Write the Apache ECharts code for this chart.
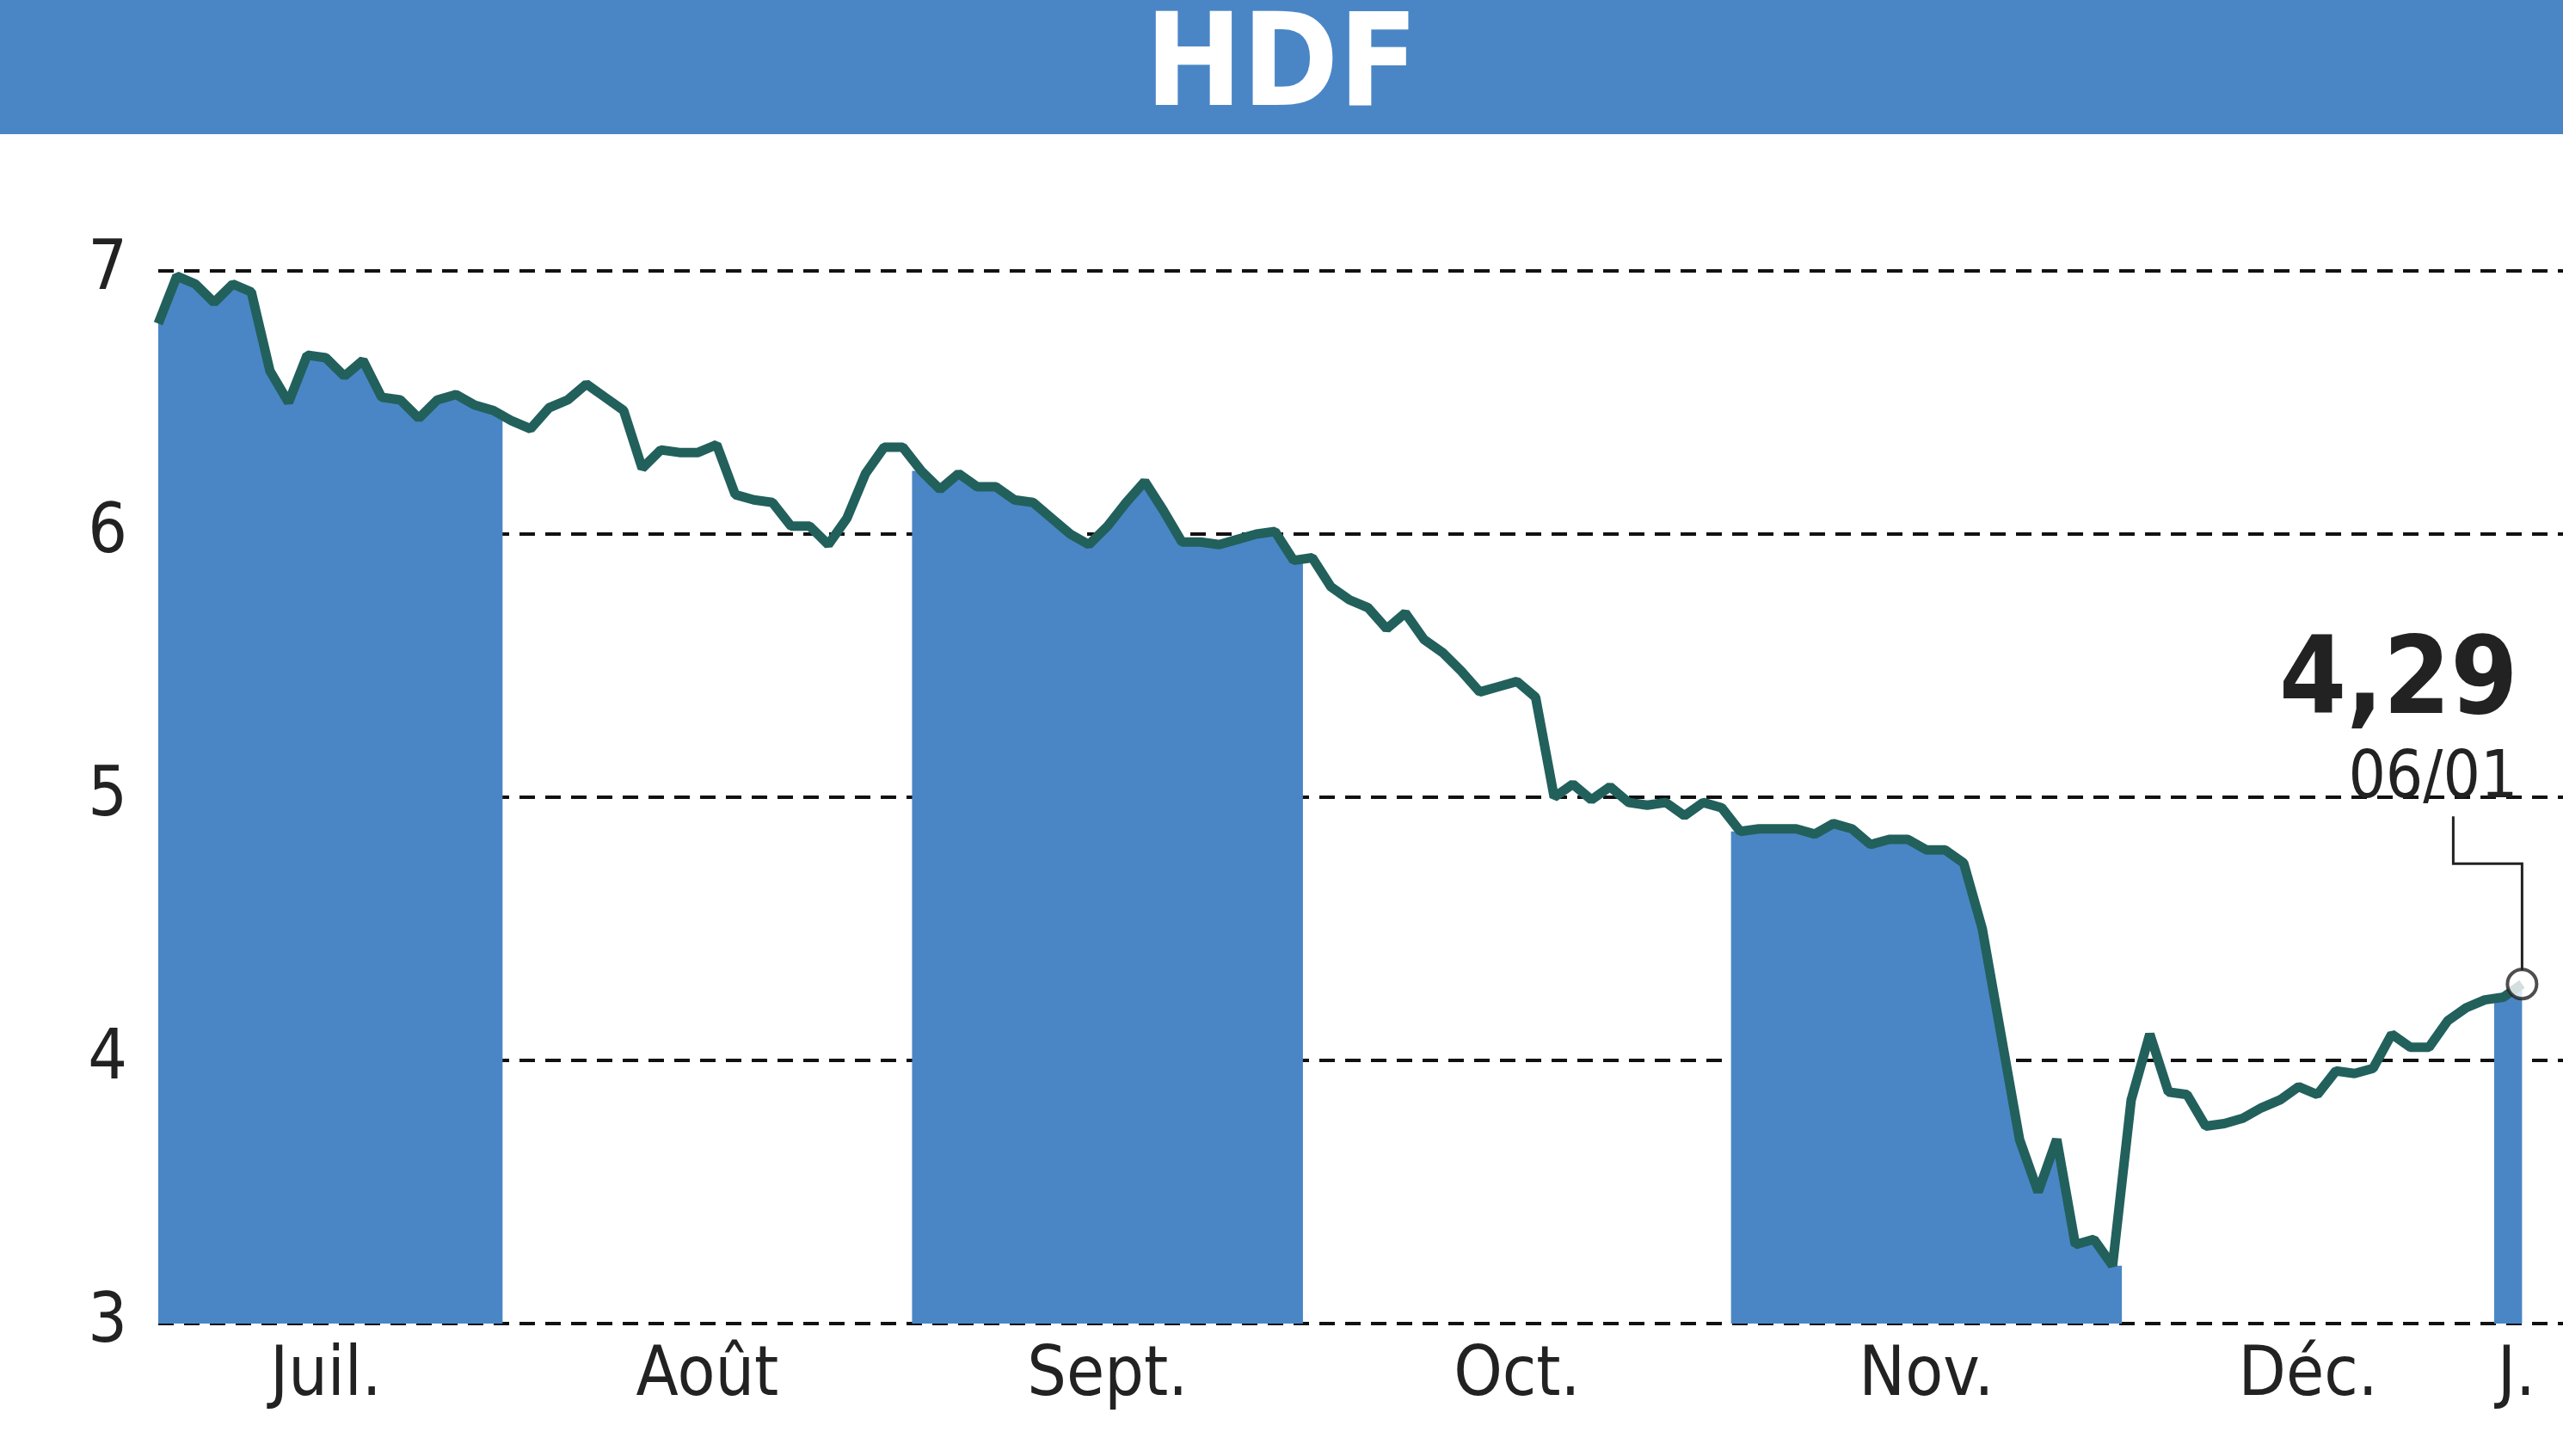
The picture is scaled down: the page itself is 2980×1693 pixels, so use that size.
<!DOCTYPE html><html><head><meta charset="utf-8">
<script src="https://cdn.jsdelivr.net/npm/echarts@6/dist/echarts.min.js"></script>
<style>html,body{margin:0;padding:0;background:#fff}#c{width:2980px;height:1693px}</style></head><body><div id="c"></div>
<script>
const title = "HDF";
const prices = [6.8,6.98,6.95,6.88,6.95,6.92,6.62,6.5,6.68,6.67,6.6,6.66,6.52,6.51,6.44,6.51,6.53,6.49,6.47,
6.43,6.4,6.48,6.51,6.57,6.52,6.47,6.25,6.32,6.31,6.31,6.34,6.15,6.13,6.12,6.03,6.03,5.96,6.06,6.23,6.33,6.33,
6.24,6.17,6.23,6.18,6.18,6.13,6.12,6.06,6.0,5.96,6.03,6.12,6.2,6.09,5.97,5.97,5.96,5.98,6.0,6.01,5.9,
5.91,5.8,5.75,5.72,5.64,5.7,5.6,5.55,5.48,5.4,5.42,5.44,5.38,5.0,5.05,4.99,5.04,4.98,4.97,4.98,4.93,4.98,4.96,
4.87,4.88,4.88,4.88,4.86,4.9,4.88,4.82,4.84,4.84,4.8,4.8,4.75,4.5,4.1,3.7,3.5,3.7,3.3,3.32,3.22,
3.85,4.1,3.88,3.87,3.75,3.76,3.78,3.82,3.85,3.9,3.87,3.96,3.95,3.97,4.1,4.05,4.05,4.15,4.2,4.23,
4.24,4.29];
const monthStarts = [0,19,41,62,85,106,126];
const monthNames = ["Juil.","Août","Sept.","Oct.","Nov.","Déc.","J."];
const shadedMonths = [0,2,4,6];
const lastLabel = "4,29", lastDate = "06/01";

const n = prices.length;
const ends = monthStarts.slice(1).concat([n]);
const centers = monthStarts.map((s,i)=> (s + ends[i]-1)/2 + (i===6?0.2:0));
const areaSeries = shadedMonths.map(m=>{
  const s = monthStarts[m], e = ends[m]-1;
  const d = [];
  d.push([m===0?s:s-0.5, prices[s]]);
  for(let i=s;i<=e;i++) d.push([i,prices[i]]);
  if(e<n-1) d.push([e+0.5,prices[e]]);
  return {type:'line',data:d,symbol:'none',lineStyle:{width:0},areaStyle:{color:'#4a86c5',opacity:1},silent:true,z:1};
});
const FONT = "DejaVu Sans Condensed";
const chart = echarts.init(document.getElementById('c'));
chart.setOption({
  animation:false,
  grid:{left:184,right:0,top:315,bottom:154},
  xAxis:{type:'value',min:0,max:129.2,axisLine:{show:false},axisTick:{show:false},splitLine:{show:false},
    axisLabel:{customValues:centers,formatter:(v)=>{const i=centers.findIndex(c=>Math.abs(c-v)<1e-6);return i>=0?monthNames[i]:'';},
      fontFamily:FONT,fontSize:80,color:'#222',margin:22}},
  yAxis:{type:'value',min:3,max:7,interval:1,axisLine:{show:false},axisTick:{show:false},
    axisLabel:{fontFamily:FONT,fontSize:80,color:'#222',margin:36},
    splitLine:{lineStyle:{color:'#111',type:[18,12],width:4}}},
  series:[...areaSeries,
    {type:'line',data:prices.map((v,i)=>[i,v]),symbol:'none',lineStyle:{color:'#22605c',width:11},z:3},
    {type:'scatter',data:[[n-1,prices[n-1]]],symbolSize:34,itemStyle:{color:'#fff',borderColor:'#222',borderWidth:4},z:5}
  ]
});
const p = chart.convertToPixel({gridIndex:0},[n-1,prices[n-1]]);
chart.setOption({graphic:[
  {type:'rect',shape:{x:0,y:0,width:2980,height:156},style:{fill:'#4a86c5'},z:10},
  {type:'text',left:'center',top:8,style:{text:title,fontFamily:FONT,fontWeight:'bold',fontSize:150,fill:'#fff'},z:11},
  {type:'text',x:p[0]-5,y:p[1]-410,style:{text:lastLabel,fontFamily:FONT,fontWeight:'bold',fontSize:125,fill:'#222',align:'right'},z:11},
  {type:'text',x:p[0]-5,y:p[1]-275,style:{text:lastDate,fontFamily:FONT,fontSize:76,fill:'#222',align:'right'},z:11},
  {type:'polyline',shape:{points:[[p[0]-80,p[1]-195],[p[0]-80,p[1]-140],[p[0],p[1]-140],[p[0],p[1]-16]]},style:{stroke:'#222',lineWidth:3,fill:null},z:11}
]});
</script></body></html>
